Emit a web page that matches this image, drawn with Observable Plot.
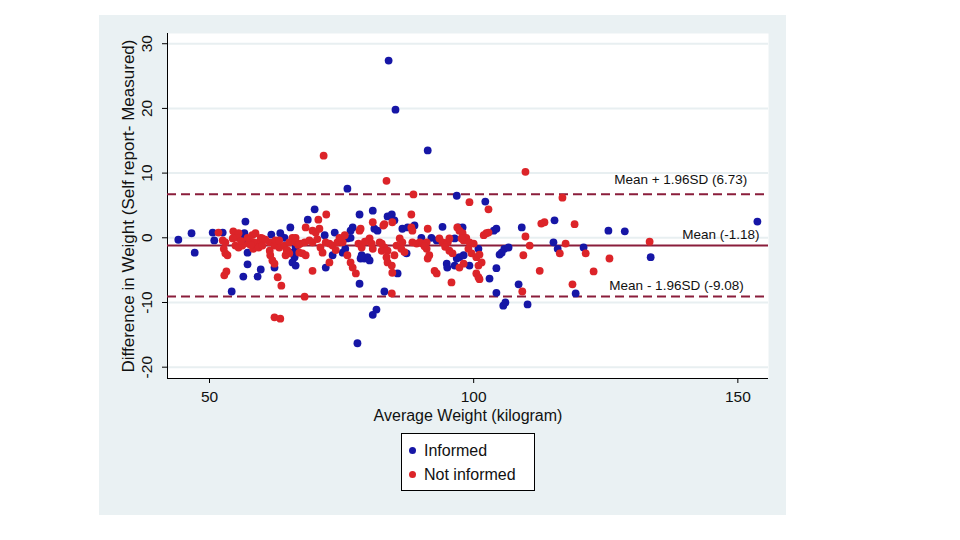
<!DOCTYPE html>
<html>
<head>
<meta charset="utf-8">
<script src="https://cdn.jsdelivr.net/npm/d3@7"></script>
<script src="https://cdn.jsdelivr.net/npm/@observablehq/plot@0.6"></script>
<style>
  html, body { margin: 0; padding: 0; background: #ffffff; }
  #wrap { position: relative; width: 960px; height: 540px; overflow: hidden; font-family: "Liberation Sans", Arial, sans-serif; }
  #panel { position: absolute; left: 99px; top: 15px; width: 687px; height: 500px; background: #eaf1f3; }
  #chart { position: absolute; left: 0; top: 0; }
  #chart svg { background: transparent !important; }
  #legend { position: absolute; left: 401px; top: 433px; width: 132px; height: 56px; border: 1px solid #000; background: #fff; }
  .item { position: absolute; left: 0; height: 20px; font-size: 16px; color: #111; white-space: nowrap; }
  .item .sw { position: absolute; left: 7px; top: 6px; width: 7px; height: 7px; border-radius: 50%; }
  .item .lb { position: absolute; left: 22px; top: 0; line-height: 20px; }
</style>
</head>
<body>
<div id="wrap">
  <div id="panel"></div>
  <div id="chart"></div>
  <div id="legend"></div>
</div>
<script>
// ---- Data ----
const seriesNames = ["Informed", "Not informed"];
const seriesColors = ["#1616a6", "#dc2429"];

const informedX = [44.1,46.6,47.2,50.6,50.9,52.5,56.8,56.6,55.9,56.4,57.2,57.2,59.7,56.4,59.1,54.2,61.7,63.4,64.2,65.3,
  66.3,65.7,66.1,65.7,66.3,62.3,68.6,69.9,71.8,73.7,72.0,73.3,75.2,75.7,76.1,76.7,76.7,77.1,78.4,78.4,
  78.0,78.6,79.3,79.9,80.3,78.8,80.9,81.2,81.8,80.9,81.6,83.1,83.7,84.5,85.0,85.6,86.5,87.5,88.8,87.3,
  90.1,92.0,93.0,94.1,94.9,95.0,96.4,96.4,96.8,97.3,98.1,97.1,97.9,99.2,100.9,102.2,103.0,103.8,104.3,104.3,
  104.3,104.9,105.3,105.8,106.6,105.6,106.0,109.1,108.5,110.2,115.3,115.1,115.9,120.8,119.3,125.5,128.6,133.5,153.7,
  83.9,85.2,91.3,76.1,96.8];
const informedY = [-0.3,0.7,-2.3,0.8,-0.4,0.8,2.5,0.7,-0.1,-0.7,-2.3,-4.1,-4.9,-6.0,-6.0,-8.3,0.5,0.7,0.0,1.6,
  -1.5,-2.3,-3.0,-3.8,-4.3,-4.6,2.8,4.4,0.4,0.8,-4.6,-2.7,-2.3,-1.7,-0.1,0.0,1.1,1.6,3.6,-7.1,
  -16.3,-3.2,-3.2,-3.0,-3.5,-2.7,4.2,1.4,1.1,-11.9,-11.1,-8.3,3.3,3.6,2.7,-5.5,1.4,1.6,1.9,-2.4,
  0.0,0.0,-0.4,1.7,-4.0,-4.6,-4.3,-0.1,-3.2,-3.0,-2.7,1.6,1.6,-4.3,-1.7,5.6,-6.3,1.1,1.4,-4.7,
  -8.5,-2.6,-2.3,-1.7,-1.5,-10.5,-10.0,1.6,-7.2,-10.3,2.7,-0.7,-1.7,-1.5,-8.6,1.1,1.0,-3.0,2.5,
  27.4,19.8,13.5,7.6,6.5];

const notInformedX = [51.7,52.5,53.0,54.5,55.5,55.3,54.4,57.2,58.1,58.7,59.7,59.3,58.3,57.4,52.7,53.0,53.4,54.9,55.5,56.2,
  58.3,59.3,60.0,52.8,53.2,60.0,61.4,62.3,63.2,64.2,65.1,65.7,62.5,63.2,66.3,67.2,68.0,68.9,69.5,64.8,
  65.1,64.4,67.0,67.6,68.2,61.4,61.5,61.9,62.3,62.9,63.6,62.3,63.4,68.0,68.2,70.6,72.1,69.5,70.1,70.8,
  69.5,72.7,71.0,71.4,72.0,72.7,73.3,74.2,75.2,76.1,76.7,77.1,77.7,78.4,78.6,74.6,75.6,80.9,80.3,80.7,
  80.9,82.2,83.1,82.6,83.7,83.5,83.7,84.5,84.6,83.1,84.6,88.2,88.2,88.4,91.3,96.9,85.4,86.0,86.5,86.3,
  85.0,88.4,89.2,89.8,90.3,91.1,91.1,91.6,91.3,92.6,93.0,93.5,94.1,95.1,95.4,95.4,96.0,95.8,84.5,99.2,
  102.8,97.3,97.9,98.6,98.1,97.7,99.2,100.0,99.0,100.5,101.1,101.5,100.9,97.3,98.1,100.5,100.9,101.1,101.9,102.4,
  102.8,109.8,110.6,109.4,109.2,112.5,112.8,113.4,116.8,119.1,117.4,116.3,121.2,125.7,122.7,118.7,133.3,
  71.6,83.5,109.8,88.6,66.3,82.9,80.1,78.2,78.8,82.6,
  56.0,57.8,60.6,64.6,66.8,70.4,73.9,79.4,86.9,90.7,94.6,99.6];
const notInformedY = [0.8,-0.4,-0.7,1.0,0.7,0.0,-0.1,0.0,0.4,0.7,0.0,-0.7,-0.7,-0.9,-1.7,-2.4,-2.7,-1.2,-1.5,-1.2,
  -1.7,-1.5,-1.2,-5.8,-5.2,-0.1,-0.7,-1.2,-1.5,-1.2,-0.7,0.0,-0.4,-0.4,-0.7,-0.9,-0.7,-0.4,-0.7,-2.0,
  -2.4,-2.7,-2.3,-2.4,-2.7,-2.0,-2.7,-3.5,-4.0,-6.1,-7.4,-12.3,-12.5,-9.1,1.6,2.8,3.6,1.1,0.8,1.4,
  -5.1,-3.8,-1.5,-2.3,-0.7,-0.9,-1.2,-0.7,-0.7,-2.7,-3.8,-4.6,-5.5,1.1,1.4,0.0,0.4,2.4,-0.1,-0.9,
  -1.7,-0.7,-1.5,-2.0,-2.0,-3.0,-3.8,-4.3,-5.4,2.1,2.4,3.6,1.6,1.1,1.4,1.6,-1.2,-0.1,-0.7,-1.7,
  -2.7,-0.7,-0.9,-0.7,-0.9,-0.7,-1.7,-2.7,-3.2,-5.1,-5.5,-0.1,-0.7,-0.7,-0.1,-2.0,-2.4,-6.9,-8.6,5.5,
  4.4,1.1,0.7,0.0,-0.4,-0.1,-0.7,-0.9,-1.7,-3.0,-2.6,-3.8,-4.3,-4.6,-4.0,-5.5,-6.1,-6.4,0.4,0.7,
  0.8,0.2,-1.2,-2.7,-8.3,-5.1,2.2,2.4,6.2,2.1,-0.9,-2.4,-2.4,-3.2,-5.2,-7.2,-0.6,
  12.7,8.8,10.2,6.7,0.0,1.9,-0.4,-0.9,-1.5,-0.9,
  -0.5,-1.1,-0.3,-1.9,-1.1,-0.2,-1.9,-0.6,-2.2,-1.3,-1.4,-2.4];

const meanDiff = -1.18;
const limits = [6.73, -9.08];
const lineLabels = ["Mean + 1.96SD (6.73)", "Mean (-1.18)", "Mean - 1.96SD (-9.08)"];
const lineLabelX = [151.8, 154.1, 151.1];
const lineLabelY = [9.0, 0.5, -7.4];

const xTicks = [50, 100, 150];
const yTicks = [-20, -10, 0, 10, 20, 30];
const xDomain = [42.05, 155.8];
const yDomain = [-21.75, 31.58];
const xTitle = "Average Weight (kilogram)";
const yTitle = "Difference in Weight (Self report- Measured)";

// ---- Build tables ----
const informed = informedX.map((x, i) => ({x, y: informedY[i]}));
const notInformed = notInformedX.map((x, i) => ({x, y: notInformedY[i]}));
const labels = lineLabels.map((t, i) => ({t, x: lineLabelX[i], y: lineLabelY[i]}));

const lineColor = "#8a1d3b";
const font = "'Liberation Sans', Arial, sans-serif";

const chart = Plot.plot({
  width: 960,
  height: 540,
  marginLeft: 167,
  marginRight: 192,
  marginTop: 33,
  marginBottom: 162,
  style: {fontFamily: font, background: "transparent", color: "#111", overflow: "visible"},
  x: {domain: xDomain},
  y: {domain: yDomain},
  marks: [
    Plot.frame({fill: "white", stroke: "none"}),
    Plot.gridY(yTicks, {stroke: "#e8eff1", strokeOpacity: 1, strokeWidth: 2}),
    Plot.ruleX([xDomain[0]], {stroke: "#000", strokeWidth: 1}),
    Plot.ruleY([yDomain[0]], {stroke: "#000", strokeWidth: 1}),
    Plot.axisX({ticks: xTicks, tickSize: 5, tickPadding: 7, fontSize: 15.5, label: null, stroke: "#000"}),
    Plot.axisY({ticks: yTicks, tickSize: 5, tickFormat: () => "", label: null, stroke: "#000"}),
    Plot.text(yTicks, {y: d => d, text: d => String(d), frameAnchor: "left", dx: -20, rotate: -90, fontSize: 15.5, fill: "#111", textAnchor: "middle", lineAnchor: "middle"}),
    Plot.text([xTitle], {frameAnchor: "bottom", dy: 37, fontSize: 16, fill: "#111", textAnchor: "middle", lineAnchor: "middle"}),
    Plot.text([yTitle], {frameAnchor: "left", dx: -39, rotate: -90, fontSize: 17, fill: "#111", textAnchor: "middle", lineAnchor: "middle"}),
    Plot.ruleY([meanDiff], {stroke: lineColor, strokeWidth: 2}),
    Plot.ruleY(limits, {stroke: lineColor, strokeWidth: 2, strokeDasharray: "9,5"}),
    Plot.dot(informed, {x: "x", y: "y", r: 3.9, fill: seriesColors[0], stroke: "none"}),
    Plot.dot(notInformed, {x: "x", y: "y", r: 3.9, fill: seriesColors[1], stroke: "none"}),
    Plot.text(labels, {x: "x", y: "y", text: "t", textAnchor: "end", fontSize: 13.5, fill: "#111"})
  ]
});
document.getElementById("chart").appendChild(chart);

// ---- Legend ----
const legend = document.getElementById("legend");
seriesNames.forEach((name, i) => {
  const item = document.createElement("div");
  item.className = "item";
  item.style.top = (7 + i * 24) + "px";
  const sw = document.createElement("span");
  sw.className = "sw";
  sw.style.background = seriesColors[i];
  const lb = document.createElement("span");
  lb.className = "lb";
  lb.textContent = name;
  item.appendChild(sw);
  item.appendChild(lb);
  legend.appendChild(item);
});
</script>
</body>
</html>
